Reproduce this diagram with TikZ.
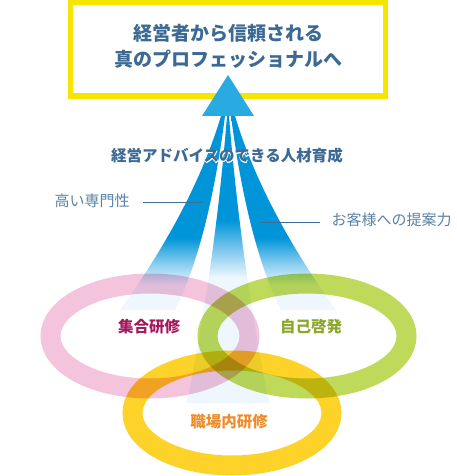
\documentclass[tikz,border=0pt]{standalone}
\usepackage{fontspec}
\newfontfamily\jp{Noto Sans CJK JP}
\newfontfamily\jphalo{Noto Sans CJK JP}[FakeBold=5]
\usetikzlibrary{calc}
\definecolor{boxyellow}{HTML}{F5E500}
\definecolor{tri}{HTML}{29ABE2}
\definecolor{beam}{HTML}{0095D9}
\definecolor{beamlight}{HTML}{80C9EE}
\definecolor{pale}{HTML}{EEF7FD}
\definecolor{titleblue}{HTML}{3D6A94}
\definecolor{labelblue}{HTML}{5B82A6}
\definecolor{lineblue}{HTML}{3E6E97}
\definecolor{ringpink}{HTML}{F3C4DC}
\definecolor{ringgreen}{HTML}{BFD95B}
\definecolor{ringyellow}{HTML}{FDD32A}
\definecolor{txtpink}{HTML}{A3195B}
\definecolor{txtgreen}{HTML}{8CA82C}
\definecolor{txtorange}{HTML}{EE8B2A}
\pgfdeclareverticalshading{outerbeam}{100bp}{color(0bp)=(pale); color(25bp)=(pale); color(31.4bp)=(pale); color(37.4bp)=(beamlight); color(43.6bp)=(beam); color(75bp)=(beam); color(100bp)=(beam)}
\pgfdeclareverticalshading{midbeam}{100bp}{color(0bp)=(pale); color(25bp)=(pale); color(46.8bp)=(pale); color(51.6bp)=(beamlight); color(56.8bp)=(beam); color(75bp)=(beam); color(100bp)=(beam)}
\newcommand{\headtext}{経営アドバイスのできる人材育成}
\tikzset{
  ring/.style={line width=20pt, blend mode=multiply},
  ringlabel/.style={font=\jp\bfseries\fontsize{15.5}{18}\selectfont, inner sep=0pt},
  sidelabel/.style={font=\jp\fontsize{15}{18}\selectfont, text=labelblue, inner sep=0pt},
  pointer/.style={draw=lineblue, line width=1pt},
  headfont/.style={font=\bfseries\fontsize{15.5}{18}\selectfont, inner sep=0pt}
}
\begin{document}
\begin{tikzpicture}[x=1pt,y=-1pt]
\useasboundingbox (0,0) rectangle (456,476);
\fill[white] (0,0) rectangle (456,476);
% beams
\shade[shading=outerbeam] (221,116) .. controls (202.6,177.3) and (168.9,242) .. (120,310)
  -- (175,310) .. controls (197.3,265.3) and (214,200.7) .. (225,116) -- cycle;
\shade[shading=outerbeam] (235,116) .. controls (253.4,177.3) and (287.1,242) .. (336,310)
  -- (281,310) .. controls (258.7,265.3) and (242,200.7) .. (231,116) -- cycle;
\shade[shading=midbeam] (227,116) .. controls (219.3,212.7) and (205.9,308.3) .. (187,403)
  -- (269,403) .. controls (250.1,308.3) and (236.7,212.7) .. (229,116) -- cycle;
% rings
\draw[ring, ringpink] (150,336) ellipse [x radius=99.5pt, y radius=52.5pt];
\draw[ring, ringgreen] (307,336) ellipse [x radius=99.5pt, y radius=52.5pt];
\draw[ring, ringyellow] (232,413) ellipse [x radius=99.5pt, y radius=52.5pt];
% box
\draw[boxyellow, line width=5.5pt] (70.5,2.5) rectangle (385.5,96);
\fill[tri] (228,75) -- (254,116) -- (202,116) -- cycle;
\node[font=\jp\bfseries\fontsize{19}{26}\selectfont, text=titleblue, align=center] (title) at (228,46) {経営者から信頼される\\真のプロフェッショナルへ};
% heading with white halo
\node[headfont] (head) at (227,156) {\makebox[0pt][l]{\jphalo\textcolor{white}{\headtext}}{\jp\textcolor{titleblue}{\headtext}}};
% side labels
\node[sidelabel] (lab1) at (92,201) {高い専門性};
\node[sidelabel] (lab2) at (391.5,220) {お客様への提案力};
\coordinate (p1a) at (143,202);
\coordinate (p1b) at (203,202);
\coordinate (p2a) at (260,222);
\coordinate (p2b) at (320,222);
\draw[pointer] (p1a) -- (p1b);
\draw[pointer] (p2a) -- (p2b);
% ring labels
\node[ringlabel, text=txtpink] (r1) at (149,327) {集合研修};
\node[ringlabel, text=txtgreen] (r2) at (311,327) {自己啓発};
\node[ringlabel, text=txtorange] (r3) at (229,422) {職場内研修};
\end{tikzpicture}
\end{document}
